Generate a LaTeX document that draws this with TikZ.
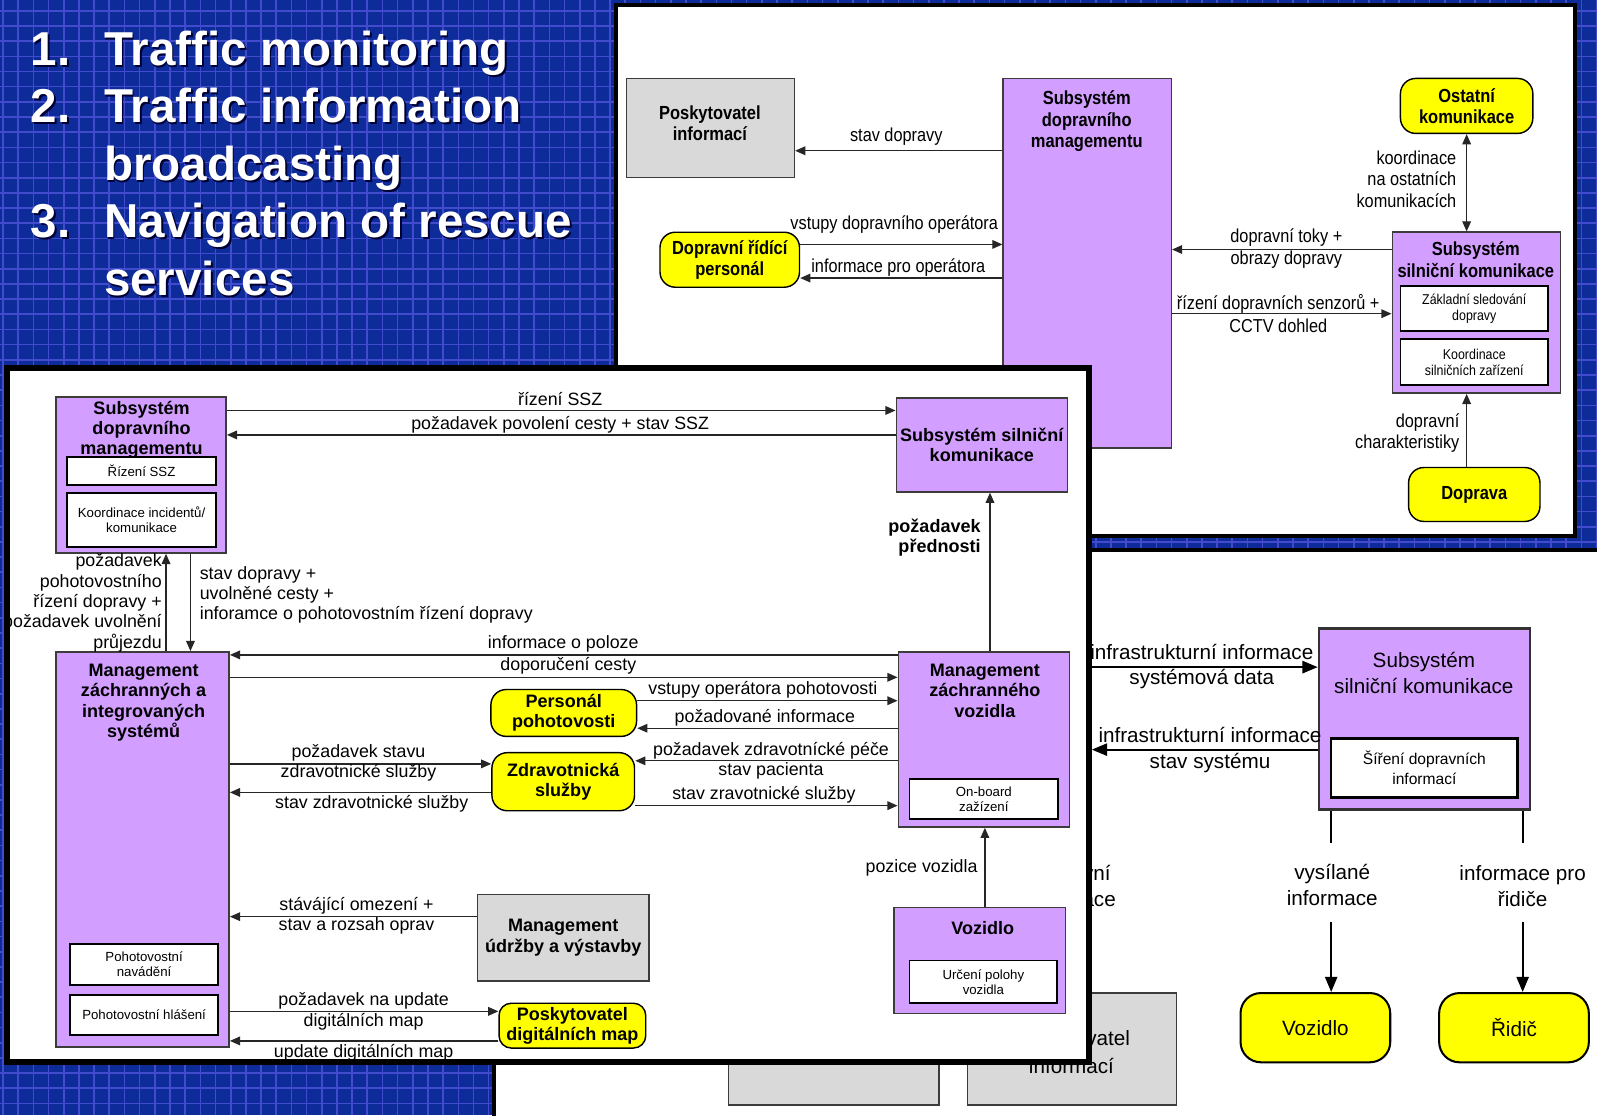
\documentclass[tikz,border=0pt]{standalone}
\usepackage{fontspec}
\setmainfont{Liberation Sans}
\newfontfamily\narrowfont[FakeStretch=0.87]{Liberation Sans}
\usetikzlibrary{arrows.meta,calc}

\definecolor{bgblue}{RGB}{13,43,153}
\definecolor{gridblue}{RGB}{66,74,206}
\definecolor{lav}{RGB}{210,158,255}
\definecolor{yel}{RGB}{255,255,0}
\definecolor{greybox}{RGB}{217,217,217}
\definecolor{edge}{RGB}{60,60,60}
\definecolor{shadowc}{RGB}{0,0,50}

\newcommand\fsz[2]{\fontsize{#1}{#2}\selectfont}
% box given by its corners: name, style, x1, y1, x2, y2, text
\newcommand\boxat[7]{\node[#2, minimum width={(#5)-(#3)}, minimum height={(#6)-(#4)}] (#1) at ({((#3)+(#5))/2},{((#4)+(#6))/2}) {#7};}
% title line with a dark shadow
\newcommand\ttl[4]{%
  \node[ttlfont, text=shadowc, anchor=base west] (#1s) at ({#2+1.8},{#3+1.8}) {#4};
  \node[ttlfont, text=white, anchor=base west] (#1) at (#2,#3) {#4};}

\tikzset{
  ttlfont/.style={inner sep=0, font=\bfseries\fsz{46.7}{56}},
  gridln/.style={draw=gridblue, line width=1.6pt},
  panel/.style={draw=black, line width=4pt, fill=white, inner sep=0},
  pbox/.style={draw=edge, line width=1.5pt, fill=lav, inner sep=0, align=center},
  wbox/.style={draw=black, line width=1.8pt, fill=white, inner sep=0, align=center},
  ybox/.style={draw=black, line width=1.4pt, fill=yel, rounded corners=15pt, inner sep=0, align=center},
  gbox/.style={draw=edge, line width=1.4pt, fill=greybox, inner sep=0, align=center},
  arr/.style={draw=black!85, line width=1.3pt, -{Triangle[length=10pt,width=8.5pt]}},
  arrC/.style={draw=black, line width=2pt, -{Triangle[length=15pt,width=12pt]}},
  lineC/.style={draw=black, line width=2pt},
  lbl/.style={inner sep=0, align=center},
  fA/.style={font=\narrowfont\fsz{18.4}{21}},
  fAb/.style={font=\narrowfont\bfseries\fsz{18.6}{21}},
  fAs/.style={font=\narrowfont\fsz{14}{16}},
  fB/.style={font=\fsz{17.5}{20}},
  fBb/.style={font=\bfseries\fsz{17.7}{20}},
  fBs/.style={font=\fsz{13}{15}},
  fC/.style={font=\fsz{20.3}{26}},
  fCs/.style={font=\fsz{15.3}{20}},
}

\begin{document}
\begin{tikzpicture}[x=1pt,y=-1pt]
\clip (0,0) rectangle (1568,1095);

% ---------- blue grid background ----------
\fill[bgblue] (0,0) rectangle (1568,1095);
\foreach \i in {0,...,105} \draw[gridln] ({3+14.9*\i},0) -- ({3+14.9*\i},1095);
\foreach \j in {-1,...,74} \draw[gridln] (0,{10.6+14.9*\j}) -- (1568,{10.6+14.9*\j});

% ---------- headline list ----------
\ttl{n1}{30}{64}{1.}
\ttl{t1}{102}{64}{Traffic monitoring}
\ttl{n2}{30}{120.5}{2.}
\ttl{t2}{102}{120.5}{Traffic information}
\ttl{t2b}{102}{177}{broadcasting}
\ttl{n3}{30}{233.5}{3.}
\ttl{t3}{102}{233.5}{Navigation of rescue}
\ttl{t3b}{102}{290}{services}

% ---------- sheet 1: traffic monitoring ----------
\boxat{pA}{panel}{605}{5}{1546}{526}{}

\boxat{pi}{gbox}{615}{77}{780}{174}{}
\node[lbl,fAb] (pit) at (697,121) {Poskytovatel\\informací};

\boxat{sdmA}{pbox}{985}{77}{1150}{440}{}
\node[lbl,fAb] (sdmAt) at (1067,119) {Subsystém\\dopravního\\managementu};

\draw[arr] (sdmA.west |- 0,148) -- (pi.east |- 0,148);
\node[lbl,fA] (lA1) at (880,134) {stav dopravy};

\boxat{drp}{ybox,fAb}{648}{228}{785}{282}{Dopravní řídící\\personál}
\draw[arr] (drp.east |- 0,240) -- (sdmA.west |- 0,240);
\node[lbl,fA] (lA2) at (878,220) {vstupy dopravního operátora};
\draw[arr] (sdmA.west |- 0,273) -- (drp.east |- 0,273);
\node[lbl,fA] (lA3) at (882,263) {informace pro operátora};

\boxat{ok}{ybox,fAb}{1375}{77}{1505}{131}{Ostatní\\komunikace}

\boxat{sskA}{pbox}{1367}{228}{1532}{386}{}
\node[lbl,fAb] (sskAt) at (1449,255) {Subsystém\\silniční komunikace};
\boxat{zsd}{wbox,fAs}{1375}{281}{1520}{325}{Základní sledování\\dopravy}
\boxat{ksz}{wbox,fAs}{1375}{333}{1520}{378}{Koordinace\\silničních zařízení}

\draw[arr, {Triangle[length=10pt,width=8.5pt]}-{Triangle[length=10pt,width=8.5pt]}]
  (1440,0 |- ok.south) -- (1440,0 |- sskA.north);
\node[lbl,fA,align=right,anchor=east] (lA4) at (1430,176) {koordinace\\na ostatních\\komunikacích};

\draw[arr] (sskA.west |- 0,245) -- (sdmA.east |- 0,245);
\node[lbl,fA] (lA5) at (1263,233) {dopravní toky +};
\node[lbl,fA] (lA6) at (1263,255) {obrazy dopravy};
\draw[arr] (sdmA.east |- 0,308) -- (sskA.west |- 0,308);
\node[lbl,fA] (lA7) at (1255,298) {řízení dopravních senzorů +};
\node[lbl,fA] (lA8) at (1255,320) {CCTV dohled};

\boxat{dop}{ybox,fAb}{1383}{459}{1512}{512}{Doprava}
\draw[arr] (1440,0 |- dop.north) -- (1440,0 |- sskA.south);
\node[lbl,fA,align=right,anchor=east] (lA9) at (1433,425) {dopravní\\charakteristiky};

% ---------- sheet 2: traffic information broadcasting ----------
\boxat{pC}{panel}{485}{540}{1590}{1120}{}
\node[lbl,fC] (hid) at (1051,870) {dopravní\\informace};
\boxat{g1}{gbox}{715}{990}{922}{1085}{}
\boxat{g2}{gbox}{950}{975}{1155}{1085}{}
\node[lbl,fC,font=\fsz{20.3}{27}] (g2t) at (1052,1033) {Poskytovatel\\informací};

\boxat{sskC}{pbox,draw=black!80,line width=2.5pt}{1295}{617}{1502}{795}{}
\node[lbl,fC] (sskCt) at (1398,661) {Subsystém\\silniční komunikace};
\boxat{sdi}{wbox,fCs,line width=2.5pt}{1307}{725}{1490}{783}{Šíření dopravních\\informací}

\node[lbl,fC] (vi) at (1308,869) {vysílané\\informace};
\node[lbl,fC] (ip) at (1495,870) {informace pro\\řidiče};
\coordinate (vtop) at (1307,828);
\coordinate (vbot) at (1307,905);
\coordinate (rtop) at (1495,828);
\coordinate (rbot) at (1495,905);
\boxat{vozC}{ybox,fC,rounded corners=20pt,line width=2pt}{1218}{975}{1365}{1043}{Vozidlo}
\boxat{ridic}{ybox,fC,rounded corners=20pt,line width=2pt}{1413}{975}{1560}{1043}{Řidič}
\draw[lineC] (vtop |- sskC.south) -- (vtop);
\draw[arrC] (vbot) -- (vbot |- vozC.north);
\draw[lineC] (rtop |- sskC.south) -- (rtop);
\draw[arrC] (rbot) -- (rbot |- ridic.north);

% ---------- sheet 3: navigation of rescue services ----------
\boxat{pB}{panel}{8}{362}{1068}{1042}{}
\begin{scope}
\clip (pB.north west) rectangle (pB.south east);

\boxat{sdmB}{pbox}{55}{390}{222}{543}{}
\node[lbl,fBb] (sdmBt) at (139,422) {Subsystém\\dopravního\\managementu};
\boxat{rssz}{wbox,fBs}{66}{449}{212}{476}{Řízení SSZ}
\boxat{kik}{wbox,fBs}{66}{484}{212}{537}{Koordinace incidentů/\\komunikace}

\boxat{sskB}{pbox,fBb}{880}{391}{1048}{483}{Subsystém silniční\\komunikace}
\draw[arr] (sdmB.east |- 0,403) -- (sskB.west |- 0,403);
\node[lbl,fB] (lB1) at (550,392) {řízení SSZ};
\draw[arr] (sskB.west |- 0,427) -- (sdmB.east |- 0,427);
\node[lbl,fB] (lB2) at (550,417) {požadavek povolení cesty + stav SSZ};

\boxat{mzis}{pbox}{55}{640}{225}{1028}{}
\node[lbl,fBb] (mzist) at (141,690) {Management\\záchranných a\\integrovaných\\systémů};
\boxat{pn}{wbox,fBs}{69}{927}{214}{967}{Pohotovostní\\navádění}
\boxat{ph}{wbox,fBs}{69}{977}{214}{1016}{Pohotovostní hlášení}

\draw[arr] (163,0 |- mzis.north) -- (163,0 |- sdmB.south);
\node[lbl,fB,align=right,anchor=east] (lB3) at (159,592)
  {požadavek\\pohotovostního\\řízení dopravy +\\požadavek uvolnění\\průjezdu};
\draw[arr] (187,0 |- sdmB.south) -- (187,0 |- mzis.north);
\node[lbl,fB,align=left,anchor=west] (lB4) at (196,584)
  {stav dopravy +\\uvolněné cesty +\\inforamce o pohotovostním řízení dopravy};

\boxat{mzv}{pbox}{882}{640}{1050}{812}{}
\node[lbl,fBb] (mzvt) at (967,678) {Management\\záchranného\\vozidla};
\boxat{obz}{wbox,fBs}{893}{765}{1039}{804}{On-board\\zažízení}

\draw[arr] (mzv.west |- 0,643) -- (mzis.east |- 0,643);
\node[lbl,fB] (lB5) at (553,632) {informace o poloze};
\draw[arr] (mzis.east |- 0,665) -- (mzv.west |- 0,665);
\node[lbl,fB] (lB6) at (558,654) {doporučení cesty};

\boxat{pp}{ybox,fBb}{482}{677}{625}{723}{Personál\\pohotovosti}
\draw[arr] (pp.east |- 0,688) -- (mzv.west |- 0,688);
\node[lbl,fB] (lB7) at (749,677) {vstupy operátora pohotovosti};
\draw[arr] (mzv.west |- 0,715) -- (pp.east |- 0,715);
\node[lbl,fB] (lB8) at (751,705) {požadované informace};

\boxat{zs}{ybox,fBb}{483}{739}{623}{796}{Zdravotnická\\služby}
\draw[arr] (mzis.east |- 0,750) -- (zs.west |- 0,750);
\node[lbl,fB] (lB9) at (352,739) {požadavek stavu};
\node[lbl,fB] (lB10) at (352,759) {zdravotnické služby};
\draw[arr] (zs.west |- 0,778) -- (mzis.east |- 0,778);
\node[lbl,fB] (lB11) at (365,789) {stav zdravotnické služby};
\draw[arr] (mzv.west |- 0,747) -- (zs.east |- 0,747);
\node[lbl,fB] (lB12) at (757,737) {požadavek zdravotnícké péče};
\node[lbl,fB] (lB13) at (757,757) {stav pacienta};
\draw[arr] (zs.east |- 0,791) -- (mzv.west |- 0,791);
\node[lbl,fB] (lB14) at (750,780) {stav zravotnické služby};

\draw[arr] (972,0 |- mzv.north) -- (972,0 |- sskB.south);
\node[lbl,fBb,align=right,anchor=east] (lB15) at (963,528) {požadavek\\přednosti};

\boxat{voz}{pbox}{878}{891}{1046}{995}{}
\node[lbl,fBb] (vozt) at (965,911) {Vozidlo};
\boxat{upv}{wbox,fBs}{893}{943}{1038}{985}{Určení polohy\\vozidla}
\draw[arr] (967,0 |- voz.north) -- (967,0 |- mzv.south);
\node[lbl,fB,anchor=east] (lB16) at (960,852) {pozice vozidla};

\boxat{muv}{gbox,fBb}{469}{878}{637}{963}{Management\\údržby a výstavby}
\draw[arr] (muv.west |- 0,900) -- (mzis.east |- 0,900);
\node[lbl,fB] (lB17) at (350,889) {stávájící omezení +};
\node[lbl,fB] (lB18) at (350,909) {stav a rozsah oprav};

\boxat{pdm}{ybox,fBb,rounded corners=12pt}{490}{985}{634}{1029}{Poskytovatel\\digitálních map}
\draw[arr] (mzis.east |- 0,993) -- (pdm.west |- 0,993);
\node[lbl,fB] (lB19) at (357,983) {požadavek na update};
\node[lbl,fB] (lB20) at (357,1003) {digitálních map};
\draw[arr] (pdm.west |- 0,1022) -- (mzis.east |- 0,1022);
\node[lbl,fB] (lB21) at (357,1034) {update digitálních map};
\end{scope}
\draw[draw=black, line width=4pt] (pB.north west) rectangle (pB.south east);

% ---------- sheet 2 links that meet the front sheet's edge ----------
\draw[arrC] (pB.east |- 0,655) -- (sskC.west |- 0,655);
\node[lbl,fC] (lC1) at (1180,640) {infrastrukturní informace};
\node[lbl,fC] (lC2) at (1180,667) {systémová data};
\draw[arrC, shorten >=2pt] (sskC.west |- 0,736) -- (pB.east |- 0,736);
\node[lbl,fC] (lC3) at (1188,722) {infrastrukturní informace};
\node[lbl,fC] (lC4) at (1188,749) {stav systému};

\end{tikzpicture}
\end{document}
